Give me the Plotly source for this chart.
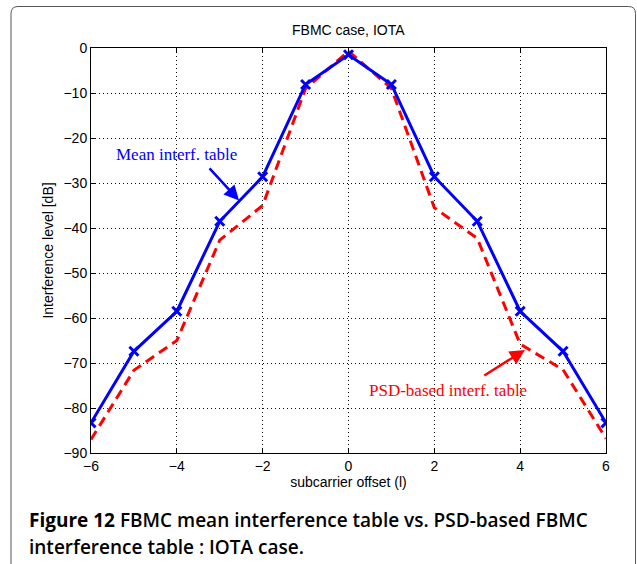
import plotly.graph_objects as go

offsets = [-6, -5, -4, -3, -2, -1, 0, 1, 2, 3, 4, 5, 6]
mean_table = [-83.3, -67.4, -58.5, -38.5, -28.6, -8.1, -1.5, -8.1, -28.6, -38.5, -58.5, -67.4, -83.3]
psd_table = [-87.0, -71.6, -65.0, -42.7, -35.0, -9.0, -0.7, -9.0, -35.5, -42.3, -65.8, -71.5, -86.8]
x_ticks = [-6, -4, -2, 0, 2, 4, 6]
y_ticks = [-90, -80, -70, -60, -50, -40, -30, -20, -10, 0]

W, H = 637, 564
L, R, T, B = 91, 31, 48, 111
pw, ph = W - L - R, H - T - B

def px(xp):
    return (xp - L) / pw

def py(yp):
    return (H - B - yp) / ph

fig = go.Figure()
fig.add_trace(go.Scatter(x=offsets, y=psd_table, mode="lines",
                         line=dict(color="#ff0000", width=3, dash="10px,6px"),
                         showlegend=False))
fig.add_trace(go.Scatter(x=offsets, y=mean_table, mode="lines+markers",
                         line=dict(color="#0000ff", width=3),
                         marker=dict(symbol="x-thin", size=9,
                                     line=dict(color="#0000ff", width=3)),
                         showlegend=False))

axis_common = dict(showline=True, linecolor="black", linewidth=1, mirror="allticks",
                   ticks="inside", ticklen=5, tickcolor="black",
                   showgrid=True, gridcolor="#111111", griddash="1px,3px", gridwidth=1,
                   zeroline=False,
                   tickfont=dict(family="Liberation Sans", size=14, color="black"))

fig.update_xaxes(range=[-6, 6], tickvals=x_ticks, **axis_common,
                 title=dict(text="subcarrier offset (l)", standoff=4,
                            font=dict(family="Liberation Sans", size=14, color="black")))
fig.update_yaxes(range=[-90, 0], tickvals=y_ticks, **axis_common,
                 title=dict(text="Interference level [dB]", standoff=6,
                            font=dict(family="Liberation Sans", size=14, color="black")))

# annotations
fig.add_annotation(x=-4.0, y=-23.6, text="Mean interf. table", showarrow=False,
                   font=dict(family="Liberation Serif", size=17, color="#0000ff"))
fig.add_annotation(x=-2.55, y=-33.9, ax=-3.27, ay=-26.4, axref="x", ayref="y",
                   text="", showarrow=True, arrowhead=2, arrowsize=1.2, arrowwidth=2.5,
                   arrowcolor="#0000ff")
fig.add_annotation(x=2.31, y=-76.2, text="PSD-based interf. table", showarrow=False,
                   font=dict(family="Liberation Serif", size=17, color="#ff0000"))
fig.add_annotation(x=4.11, y=-67.1, ax=3.13, ay=-73.0, axref="x", ayref="y",
                   text="", showarrow=True, arrowhead=2, arrowsize=1.2, arrowwidth=2.5,
                   arrowcolor="#ff0000")

# title
fig.add_annotation(xref="paper", yref="paper", x=0.5, y=py(30), text="FBMC case, IOTA",
                   showarrow=False, yanchor="middle",
                   font=dict(family="Liberation Sans", size=14, color="black"))

# caption
cap_font = dict(family="Open Sans", size=19, color="black", weight=600)
fig.add_annotation(xref="paper", yref="paper", x=px(27), y=py(520), xanchor="left", yanchor="middle",
                   text="<b>Figure 12</b> FBMC mean interference table vs. PSD-based FBMC",
                   showarrow=False, font=cap_font)
fig.add_annotation(xref="paper", yref="paper", x=px(27), y=py(547), xanchor="left", yanchor="middle",
                   text="interference table : IOTA case.",
                   showarrow=False, font=cap_font)

# rounded frame
x0, x1 = px(11), px(635.5)
y0, y1 = py(6.5), py(600)
rx, ry = 7 / pw, 7 / ph
path = (f"M {x0},{y1} L {x0},{y0 - ry} Q {x0},{y0} {x0 + rx},{y0} "
        f"L {x1 - rx},{y0} Q {x1},{y0} {x1},{y0 - ry} L {x1},{y1}")
fig.add_shape(type="path", xref="paper", yref="paper", path=path,
              line=dict(color="#555555", width=1))

fig.update_layout(width=W, height=H, margin=dict(l=L, r=R, t=T, b=B),
                  paper_bgcolor="white", plot_bgcolor="white")

fig.write_html("out.html")
